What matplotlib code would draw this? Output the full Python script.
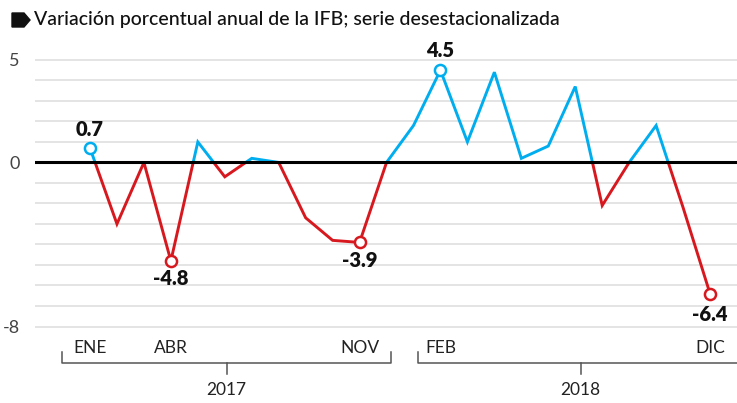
import numpy as np
import matplotlib
matplotlib.use("Agg")
import matplotlib.pyplot as plt
from matplotlib.patches import Rectangle, Polygon

# IFB, variacion porcentual anual (ene 2017 - dic 2018)
valores = [0.7, -3.0, 0.0, -4.8, 1.0, -0.7, 0.2, 0.0, -2.7, -3.8, -3.9, 0.0,
           1.8, 4.5, 1.0, 4.4, 0.2, 0.8, 3.7, -2.1, 0.0, 1.8, -2.2, -6.4]
meses_idx = [0, 3, 10, 13, 23]
meses_lbl = ["ENE", "ABR", "NOV", "FEB", "DIC"]
anios = ["2017", "2018"]
destacados = [0, 3, 10, 13, 23]
y_ticks = [5, 0, -8]

AZUL = "#00aeef"
ROJO = "#d7191f"

plt.rcParams['font.family'] = ['Lato', 'DejaVu Sans']

fig = plt.figure(figsize=(7.37, 4.03), dpi=100)
ax = fig.add_axes([35 / 737, 0, 702 / 737, 363 / 403])

x = np.arange(len(valores))
y = np.array(valores)

ax.set_xlim(-2.04, 24.0)
ax.set_ylim(-11.73, 5.97)

for g in range(-8, 6):
    if g == 0:
        continue
    ax.axhline(g, color="#dcdcdc", lw=1.1, zorder=0)
ax.axhline(0, color="black", lw=2.2, zorder=3)

# linea azul arriba de cero, roja abajo
lin_pos, = ax.plot(x, y, color=AZUL, lw=2.1, zorder=2, solid_joinstyle="miter")
lin_neg, = ax.plot(x, y, color=ROJO, lw=2.1, zorder=2, solid_joinstyle="miter")
lin_pos.set_clip_path(Rectangle((-5, 0), 40, 20, transform=ax.transData))
lin_neg.set_clip_path(Rectangle((-5, -20), 40, 20, transform=ax.transData))

offsets = {0: 19, 3: -18, 10: -18, 13: 20, 23: -21}
for i in destacados:
    c = AZUL if valores[i] > 0 else ROJO
    ax.plot(x[i], y[i], "o", ms=8, mfc="white", mec=c, mew=1.8, zorder=5)
    ax.annotate(f"{valores[i]:.1f}", (x[i], y[i]), xytext=(0, offsets[i]),
                textcoords="offset pixels", ha="center", va="center",
                fontsize=14.5, fontweight="heavy", color="#111111", zorder=6)

# etiquetas de meses
for i, lbl in zip(meses_idx, meses_lbl):
    ax.text(i, -9.07, lbl, ha="center", va="center", fontsize=12.5,
            color="#222222")

# corchetes de anios
for (a, b), anio in zip([(-1.03, 11.16), (12.18, 24.22)], anios):
    ax.plot([a, a, b, b], [-9.25, -9.8, -9.8, -9.25], color="#555555",
            lw=1.1, clip_on=False)
    m = (a + b) / 2
    ax.plot([m, m], [-9.8, -10.34], color="#555555", lw=1.1, clip_on=False)
    ax.text(m, -11.11, anio, ha="center", va="center", fontsize=12.5,
            color="#222222")

ax.set_xticks([])
ax.set_yticks(y_ticks)
ax.set_yticklabels([str(t) for t in y_ticks], fontsize=13, color="#444444")
ax.tick_params(axis="y", length=0, pad=11)
for s in ax.spines.values():
    s.set_visible(False)

# titulo
fig.add_artist(Polygon([[12 / 737, 1 - 13 / 403], [24 / 737, 1 - 13 / 403],
                        [30 / 737, 1 - 20 / 403], [24 / 737, 1 - 27 / 403],
                        [12 / 737, 1 - 27 / 403]], closed=True,
                       transform=fig.transFigure, color="#111111"))
fig.text(34 / 737, 1 - 20 / 403,
         "Variación porcentual anual de la IFB; serie desestacionalizada",
         ha="left", va="center", fontsize=14, fontweight="medium",
         color="#111111")

fig.savefig("out.png", dpi=100)
